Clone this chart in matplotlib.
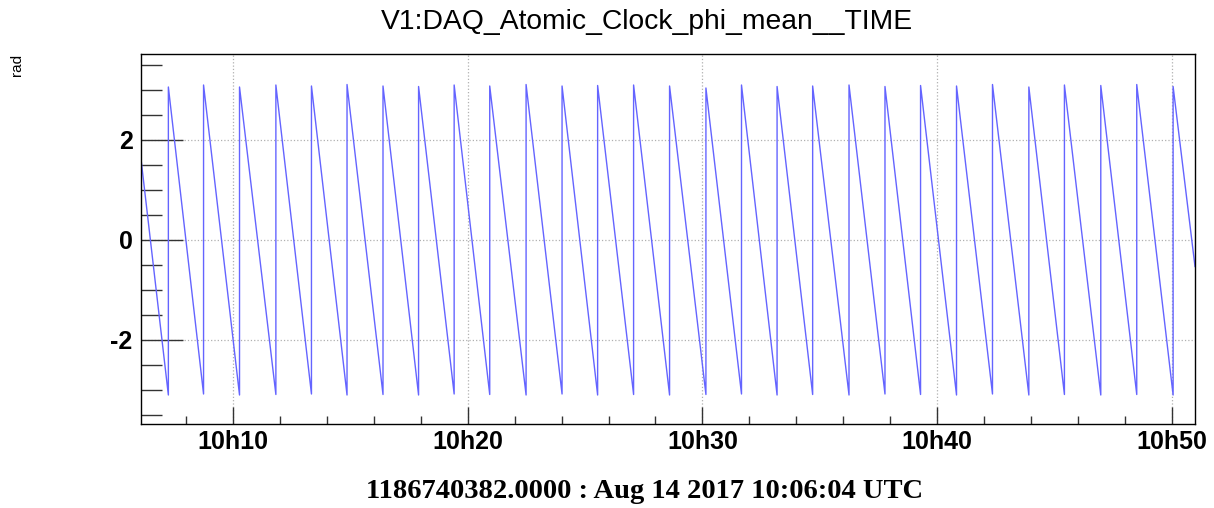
import datetime as dt
import matplotlib
matplotlib.use("Agg")
import matplotlib.pyplot as plt
import matplotlib.dates as mdates
from matplotlib.ticker import MultipleLocator

plt.rcParams["axes.unicode_minus"] = False

# phase wraps (-pi -> +pi)
wrap_times = ["10:07:14", "10:08:44", "10:10:16", "10:11:49", "10:13:20", "10:14:51",
              "10:16:23", "10:17:54", "10:19:25", "10:20:56", "10:22:29", "10:24:01",
              "10:25:32", "10:27:04", "10:28:36", "10:30:09", "10:31:40", "10:33:11",
              "10:34:42", "10:36:15", "10:37:47", "10:39:18", "10:40:50", "10:42:22",
              "10:43:55", "10:45:26", "10:46:59", "10:48:31", "10:50:04"]
trough_vals = [-3.10, -3.08, -3.10, -3.09, -3.08, -3.10, -3.09, -3.10, -3.08, -3.09,
               -3.10, -3.08, -3.10, -3.09, -3.10, -3.09, -3.08, -3.10, -3.09, -3.10,
               -3.08, -3.09, -3.10, -3.08, -3.10, -3.09, -3.10, -3.09, -3.10]
peak_vals = [3.06, 3.10, 3.06, 3.10, 3.08, 3.11, 3.08, 3.07, 3.10, 3.08,
             3.11, 3.08, 3.09, 3.10, 3.08, 3.04, 3.10, 3.07, 3.08, 3.10,
             3.07, 3.09, 3.08, 3.11, 3.06, 3.10, 3.09, 3.11, 3.07]
start_time, start_val = "10:06:04", 1.62
end_time, end_val = "10:51:00", -0.53

day = dt.date(2017, 8, 14)
def ts(s):
    return dt.datetime.combine(day, dt.datetime.strptime(s, "%H:%M:%S").time())

x = [ts(start_time)]
y = [start_val]
for w, lo, hi in zip(wrap_times, trough_vals, peak_vals):
    x += [ts(w), ts(w)]
    y += [lo, hi]
x.append(ts(end_time))
y.append(end_val)

fig = plt.figure(figsize=(12.14, 5.08), dpi=100)
ax = fig.add_axes([141/1214, 1-424/508, (1195-141)/1214, (424-54)/508])
ax.plot(x, y, color="#6464ff", lw=1.0)

ax.set_xlim(ts(start_time), ts(end_time))
ax.set_ylim(-3.68, 3.72)

ax.xaxis.set_major_locator(mdates.MinuteLocator(byminute=range(0, 60, 10)))
ax.xaxis.set_minor_locator(mdates.MinuteLocator(byminute=range(0, 60, 2)))
ax.xaxis.set_major_formatter(mdates.DateFormatter("%Hh%M"))
ax.yaxis.set_major_locator(MultipleLocator(2))
ax.yaxis.set_minor_locator(MultipleLocator(0.5))

ax.tick_params(axis="x", which="major", direction="in", length=12, width=1, pad=4,
               color="#333333")
ax.tick_params(axis="x", which="minor", direction="in", length=6, width=1, color="#333333")
ax.tick_params(axis="y", which="major", direction="in", length=30, width=1, pad=6,
               color="#333333")
ax.tick_params(axis="y", which="minor", direction="in", length=15, width=1, color="#333333")
for lab in ax.get_xticklabels() + ax.get_yticklabels():
    lab.set_fontweight("bold")
    lab.set_fontsize(18)
    lab.set_family("Liberation Sans")

ax.grid(True, which="major", color="#b0b0b0", linestyle=":", linewidth=0.9)
for sp in ax.spines.values():
    sp.set_linewidth(1.0)

fig.text(647/1214, 1-22/508, "V1:DAQ_Atomic_Clock_phi_mean__TIME",
         ha="center", va="center", fontsize=20.3, family="Liberation Sans")
fig.text(17/1214, 1-65/508, "rad", rotation=90, ha="center", va="center",
         fontsize=11, family="Liberation Sans")
fig.text(645/1214, 1-492/508, "1186740382.0000 : Aug 14 2017 10:06:04 UTC",
         ha="center", va="center", fontsize=20.5, fontweight="bold",
         family="Liberation Serif")

fig.savefig("out.png", dpi=100)
